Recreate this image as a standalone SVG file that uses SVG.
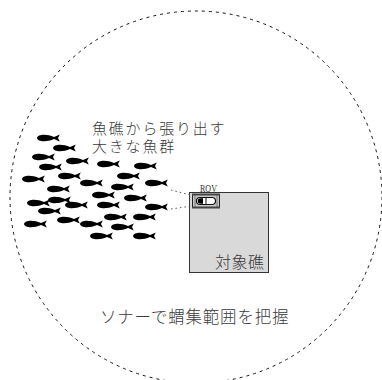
<svg xmlns="http://www.w3.org/2000/svg" xmlns:xlink="http://www.w3.org/1999/xlink" width="382" height="380" viewBox="0 0 382 380">
  <style>
    .jp { font-family: "Noto Sans CJK JP", "Noto Sans", sans-serif; fill: #3a3a3a; font-weight: 300; }
    .jp-tight { font-family: "Liberation Sans", "Noto Sans CJK JP", sans-serif; fill: #3a3a3a; font-weight: 300; }
    .range { fill: none; stroke: #111; stroke-width: 1; stroke-dasharray: 3 4; }
    .tether { fill: none; stroke: #555; stroke-width: 1; stroke-dasharray: 1.5 3; }
    .fish { fill: #000; }
  </style>
  <defs>
    <!-- small fish facing left, head at origin -->
    <path id="fish" class="fish" d="M0,0 C0.8,-4.2 10,-4.2 17,-1.1 L22.8,-3.6 L21,0 L22.8,3.6 L17,1.1 C10,4.2 0.8,4.2 0,0 Z"/>
  </defs>

  <rect width="382" height="380" fill="#fff"/>

  <!-- sonar coverage -->
  <g id="sonar-range">
    <circle class="range" cx="196" cy="197" r="186"/>
    <text class="jp" x="100" y="323" font-size="16.5" letter-spacing="0.8">ソナーで蝟集範囲を把握</text>
  </g>

  <!-- school of fish -->
  <g id="school">
    <use xlink:href="#fish" x="37" y="138"/>
    <use xlink:href="#fish" x="53" y="148"/>
    <use xlink:href="#fish" x="32" y="157"/>
    <use xlink:href="#fish" x="66" y="161"/>
    <use xlink:href="#fish" x="39" y="167"/>
    <use xlink:href="#fish" x="97" y="164"/>
    <use xlink:href="#fish" x="134" y="166"/>
    <use xlink:href="#fish" x="22" y="179"/>
    <use xlink:href="#fish" x="58" y="176"/>
    <use xlink:href="#fish" x="117" y="176"/>
    <use xlink:href="#fish" x="80" y="183"/>
    <use xlink:href="#fish" x="111" y="187"/>
    <use xlink:href="#fish" x="145" y="183"/>
    <use xlink:href="#fish" x="47" y="189"/>
    <use xlink:href="#fish" x="92" y="195"/>
    <use xlink:href="#fish" x="124" y="198"/>
    <use xlink:href="#fish" x="27" y="203"/>
    <use xlink:href="#fish" x="48" y="200"/>
    <use xlink:href="#fish" x="65" y="205"/>
    <use xlink:href="#fish" x="97" y="205"/>
    <use xlink:href="#fish" x="38" y="211"/>
    <use xlink:href="#fish" x="145" y="207"/>
    <use xlink:href="#fish" x="104" y="217"/>
    <use xlink:href="#fish" x="133" y="217"/>
    <use xlink:href="#fish" x="24" y="224"/>
    <use xlink:href="#fish" x="57" y="220"/>
    <use xlink:href="#fish" x="80" y="224"/>
    <use xlink:href="#fish" x="111" y="227"/>
    <use xlink:href="#fish" x="90" y="236"/>
    <use xlink:href="#fish" x="133" y="236"/>
    <text class="jp-tight" x="92" y="134" font-size="15" letter-spacing="1.8">魚礁から張り出す</text>
    <text class="jp-tight" x="92" y="151.5" font-size="15" letter-spacing="1.8">大きな魚群</text>
  </g>

  <!-- target reef -->
  <g id="reef">
    <rect x="189.5" y="192.5" width="79" height="80" fill="#d9d9d9" stroke="#333" stroke-width="1"/>
    <text class="jp" x="215" y="268" font-size="16" letter-spacing="0.5">対象礁</text>
  </g>

  <!-- sonar beam edges -->
  <g id="connectors">
    <line class="tether" x1="171" y1="190" x2="192" y2="195.5"/>
    <line class="tether" x1="171" y1="209" x2="192" y2="206"/>
  </g>

  <!-- ROV -->
  <g id="rov">
    <text x="200" y="192.3" font-family="Liberation Serif, serif" font-size="11" fill="#333" textLength="17" lengthAdjust="spacingAndGlyphs">ROV</text>
    <rect x="192.5" y="194.5" width="27" height="13" fill="#c8c8c8" stroke="#222" stroke-width="1"/>
    <g stroke="#555" stroke-width="0.7">
      <line x1="195" y1="195" x2="195" y2="207"/>
      <line x1="217" y1="195" x2="217" y2="207"/>
    </g>
    <rect x="192" y="193.5" width="28" height="2" fill="#444"/>
    <rect x="192" y="206.5" width="28" height="2" fill="#444"/>
    <rect x="196.5" y="197.5" width="19" height="7" rx="3.5" fill="#fff" stroke="#111" stroke-width="1.2"/>
    <path d="M200.5,198.3 A2.7,2.7 0 0 0 200.5,203.7 L203,203.7 L203,198.3 Z" fill="#000"/>
    <line x1="206" y1="197" x2="206" y2="205" stroke="#111" stroke-width="1"/>
  </g>
</svg>
